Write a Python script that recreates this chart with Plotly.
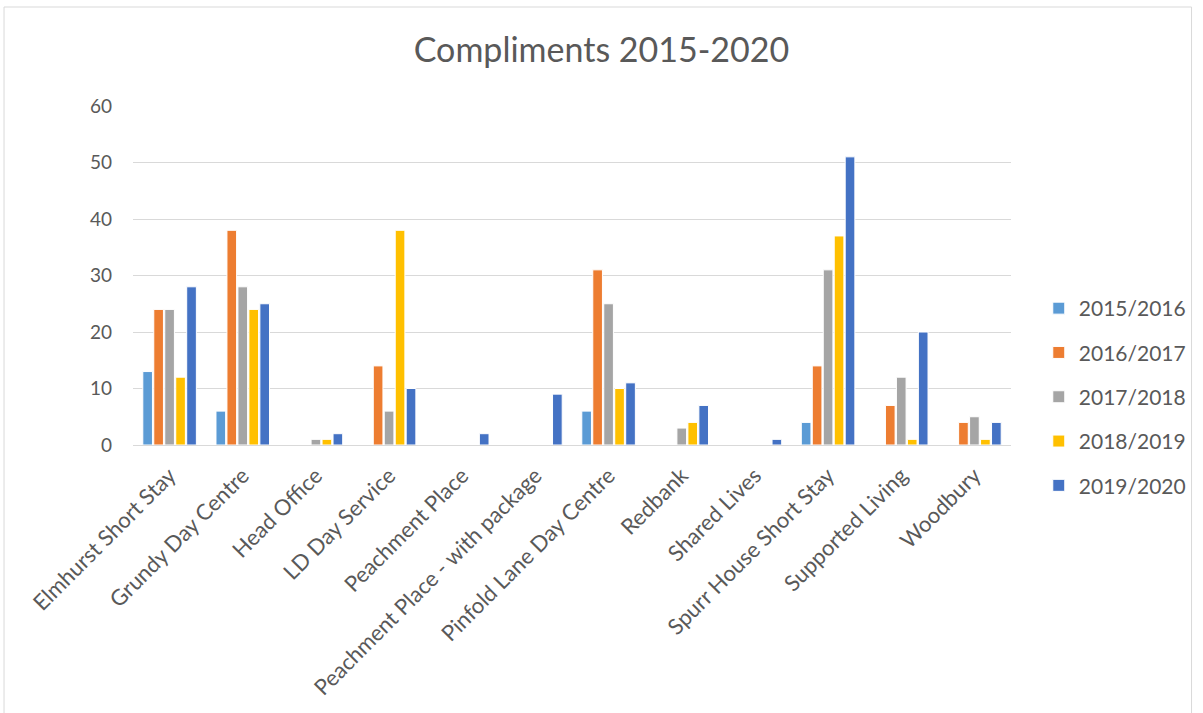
import plotly.graph_objects as go

categories = ["Elmhurst Short Stay", "Grundy Day Centre", "Head Office", "LD Day Service",
              "Peachment Place", "Peachment Place - with package", "Pinfold Lane Day Centre",
              "Redbank", "Shared Lives", "Spurr House Short Stay", "Supported Living", "Woodbury"]
y2015_2016 = [13, 6, 0, 0, 0, 0, 6, 0, 0, 4, 0, 0]
y2016_2017 = [24, 38, 0, 14, 0, 0, 31, 0, 0, 14, 7, 4]
y2017_2018 = [24, 28, 1, 6, 0, 0, 25, 3, 0, 31, 12, 5]
y2018_2019 = [12, 24, 1, 38, 0, 0, 10, 4, 0, 37, 1, 1]
y2019_2020 = [28, 25, 2, 10, 2, 9, 11, 7, 1, 51, 20, 4]
series_names = ["2015/2016", "2016/2017", "2017/2018", "2018/2019", "2019/2020"]
series_values = [y2015_2016, y2016_2017, y2017_2018, y2018_2019, y2019_2020]
colors = ["#5B9BD5", "#ED7D31", "#A5A5A5", "#FFC000", "#4472C4"]

font_family = "Lato, 'Open Sans', sans-serif"
text_color = "#595959"

fig = go.Figure()
for i, (name, vals) in enumerate(zip(series_names, series_values)):
    fig.add_trace(go.Bar(
        x=categories, y=vals, name=name, legendgroup=name,
        marker=dict(color=colors[i], line=dict(color="white", width=1)),
    ))

L, R, T, B = 133, 185, 106, 268
W, H = 1203, 713
pw = W - L - R
ph = H - T - B

def px_x(x):
    return (x - L) / pw

def px_y(y):
    return (H - B - y) / ph

fig.update_layout(
    width=W, height=H,
    margin=dict(l=L, r=R, t=T, b=B),
    paper_bgcolor="white", plot_bgcolor="white",
    font=dict(family=font_family, color=text_color, size=19),
    title=dict(text="Compliments 2015-2020", x=0.5, xanchor="center",
               y=1 - 50 / H, yanchor="middle",
               font=dict(size=34, color=text_color, family=font_family)),
    barmode="group", bargap=0.25, bargroupgap=0.12,
    legend=dict(x=px_x(1046), xanchor="left", y=px_y(397), yanchor="middle",
                font=dict(size=21, color=text_color), tracegroupgap=14,
                traceorder="grouped", itemwidth=30),
    showlegend=True,
)
fig.update_xaxes(tickangle=-45, showgrid=False, showline=True, linecolor="#D9D9D9",
                 linewidth=1, ticks="", automargin=False, ticklabelstandoff=8,
                 tickfont=dict(size=22, color=text_color))
fig.update_yaxes(range=[0, 60], dtick=10, showgrid=True, gridcolor="#D9D9D9",
                 gridwidth=1, zeroline=False, showline=False, ticks="", automargin=False,
                 tickfont=dict(size=19, color=text_color), ticklabelstandoff=20)

fig.add_shape(type="rect", xref="paper", yref="paper",
              x0=px_x(3), x1=px_x(1200), y0=px_y(730), y1=px_y(7),
              line=dict(color="#D9D9D9", width=1), fillcolor="rgba(0,0,0,0)", layer="below")

fig.write_html("out.html")
